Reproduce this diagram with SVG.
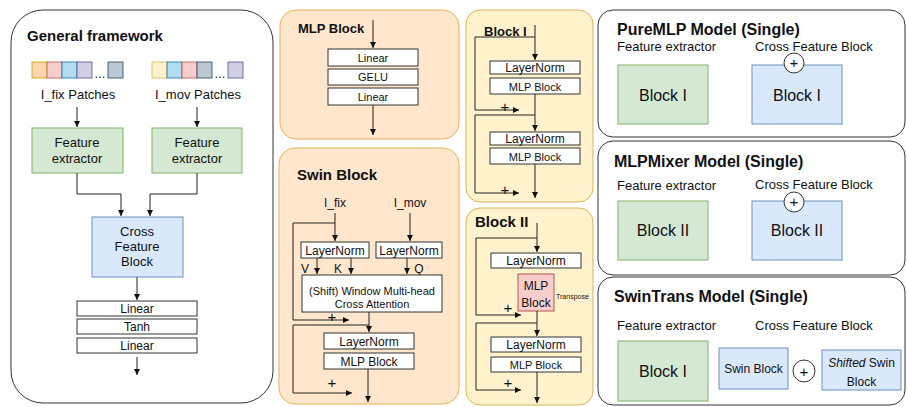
<svg xmlns="http://www.w3.org/2000/svg" width="907" height="407" viewBox="0 0 907 407">
<style>
text{font-family:"Liberation Sans",Arial,sans-serif;fill:#111}
.t{font-weight:bold}
.c{text-anchor:middle}
.box{fill:#fff;stroke:#333;stroke-width:1}
.grn{fill:#d5e8d4;stroke:#82b366;stroke-width:1}
.blu{fill:#dae8fc;stroke:#6c8ebf;stroke-width:1}
.org{fill:#ffe6cc;stroke:#e6b35a;stroke-width:1}
.yel{fill:#fff2cc;stroke:#d6b656;stroke-width:1}
.pnl{fill:#fff;stroke:#333;stroke-width:1}
.ln{fill:none;stroke:#222;stroke-width:1}
.s11{font-size:11px}
.s12{font-size:12px}
.s13{font-size:13px}
.pl{font-size:15px;text-anchor:middle}
</style>
<defs>
<marker id="a" markerWidth="7" markerHeight="7" refX="6" refY="3.5" orient="auto" markerUnits="userSpaceOnUse">
<path d="M0,0.5 L6,3.5 L0,6.5 Z" fill="#111"/>
</marker>
</defs>

<!-- General framework -->
<g id="general">
<rect x="11" y="10" width="262" height="393" rx="32" class="pnl"/>
<text x="27" y="41" class="t" font-size="15">General framework</text>
</g>
<g id="fix-patches">
<rect x="32" y="62" width="15" height="16" fill="#fad7ac" stroke="#d79b00" stroke-width="0.8"/>
<rect x="47" y="62" width="15" height="16" fill="#f8cecc" stroke="#b85450" stroke-width="0.8"/>
<rect x="62" y="62" width="15" height="16" fill="#b1ddf0" stroke="#10739e" stroke-width="0.8"/>
<rect x="77" y="62" width="15" height="16" fill="#d0cee2" stroke="#56517e" stroke-width="0.8"/>
<text x="100" y="78" class="c s13">...</text>
<rect x="108" y="62" width="15" height="16" fill="#bac8d3" stroke="#23445d" stroke-width="0.8"/>
<text x="78" y="99" class="c s13">I_fix Patches</text>
</g>
<g id="mov-patches">
<rect x="152" y="62" width="15" height="16" fill="#fff2cc" stroke="#d6b656" stroke-width="0.8"/>
<rect x="167" y="62" width="15" height="16" fill="#b1ddf0" stroke="#10739e" stroke-width="0.8"/>
<rect x="182" y="62" width="15" height="16" fill="#f8cecc" stroke="#b85450" stroke-width="0.8"/>
<rect x="197" y="62" width="15" height="16" fill="#bac8d3" stroke="#23445d" stroke-width="0.8"/>
<text x="220" y="78" class="c s13">...</text>
<rect x="228" y="62" width="15" height="16" fill="#d0cee2" stroke="#56517e" stroke-width="0.8"/>
<text x="198" y="99" class="c s13">I_mov Patches</text>
</g>
<g id="fe-left">
<rect x="32" y="128" width="91" height="45" class="grn"/>
<text x="77" y="147" class="c s13">Feature</text>
<text x="77" y="163" class="c s13">extractor</text>
</g>
<g id="fe-right">
<rect x="152" y="128" width="90" height="45" class="grn"/>
<text x="197" y="147" class="c s13">Feature</text>
<text x="197" y="163" class="c s13">extractor</text>
</g>
<g id="cfb">
<rect x="92" y="217" width="91" height="60" class="blu"/>
<text x="137" y="236" class="c s13">Cross</text>
<text x="137" y="251" class="c s13">Feature</text>
<text x="137" y="266" class="c s13">Block</text>
</g>
<g id="head">
<rect x="77" y="301" width="120" height="15" class="box"/>
<text x="137" y="313" class="c s12">Linear</text>
<rect x="77" y="319" width="120" height="15" class="box"/>
<text x="137" y="331" class="c s12">Tanh</text>
<rect x="77" y="338" width="120" height="15" class="box"/>
<text x="137" y="350" class="c s12">Linear</text>
</g>

<!-- MLP Block -->
<g id="mlp-block">
<rect x="280" y="10" width="179" height="129" rx="16" class="org"/>
<text x="298" y="33" class="t s13">MLP Block</text>
<rect x="328" y="49" width="90" height="17" class="box"/>
<text x="373" y="61.5" class="c s11">Linear</text>
<rect x="328" y="69" width="90" height="16" class="box"/>
<text x="373" y="81" class="c s11">GELU</text>
<rect x="328" y="88" width="90" height="17" class="box"/>
<text x="373" y="100.5" class="c s11">Linear</text>
</g>

<!-- Swin Block -->
<g id="swin-block">
<rect x="279" y="148" width="180" height="256" rx="16" class="org"/>
<text x="297" y="180" class="t" font-size="15">Swin Block</text>
<text x="335" y="207" class="c s12">I_fix</text>
<text x="410" y="207" class="c s12">I_mov</text>
<rect x="301" y="242" width="68" height="16" class="box"/>
<text x="335" y="254.5" class="c s12">LayerNorm</text>
<rect x="376" y="242" width="66" height="16" class="box"/>
<text x="409" y="254.5" class="c s12">LayerNorm</text>
<text x="305" y="273" class="c s12">V</text>
<text x="338" y="273" class="c s12">K</text>
<text x="419" y="273" class="c s12">Q</text>
<rect x="302" y="275" width="140" height="37" class="box"/>
<text x="372" y="295" class="c s11">(Shift) Window Multi-head</text>
<text x="372" y="308" class="c s11">Cross Attention</text>
<text x="332" y="322" class="pl">+</text>
<rect x="324" y="333" width="90" height="16" class="box"/>
<text x="369" y="345.5" class="c s12">LayerNorm</text>
<rect x="324" y="353" width="90" height="16" class="box"/>
<text x="369" y="365.5" class="c s12">MLP Block</text>
<text x="332" y="388" class="pl">+</text>
</g>

<!-- Block I -->
<g id="block-1">
<rect x="466" y="10" width="127" height="192" rx="14" class="yel"/>
<text x="484" y="36" class="t" font-size="13">Block I</text>
<rect x="490" y="61" width="90" height="13" class="box"/>
<text x="535" y="72" class="c s12">LayerNorm</text>
<rect x="490" y="78" width="90" height="16" class="box"/>
<text x="535" y="90.5" class="c s11">MLP Block</text>
<text x="505" y="112" class="pl">+</text>
<rect x="490" y="132" width="90" height="13" class="box"/>
<text x="535" y="143" class="c s12">LayerNorm</text>
<rect x="490" y="148" width="90" height="16" class="box"/>
<text x="535" y="160.5" class="c s11">MLP Block</text>
<text x="505" y="195" class="pl">+</text>
</g>

<!-- Block II -->
<g id="block-2">
<rect x="466" y="208" width="127" height="197" rx="14" class="yel"/>
<text x="475" y="227" class="t" font-size="15">Block II</text>
<rect x="491" y="253" width="90" height="15" class="box"/>
<text x="536" y="265" class="c s12">LayerNorm</text>
<rect x="518" y="274" width="36" height="37" fill="#f8cecc" stroke="#b85450" stroke-width="1"/>
<text x="536" y="290" class="c s12">MLP</text>
<text x="536" y="307" class="c s12">Block</text>
<text x="556" y="299" font-size="7">Transpose</text>
<text x="508" y="313" class="pl">+</text>
<rect x="491" y="337" width="90" height="15" class="box"/>
<text x="536" y="349" class="c s12">LayerNorm</text>
<rect x="491" y="357" width="90" height="15" class="box"/>
<text x="536" y="369" class="c s11">MLP Block</text>
<text x="508" y="388" class="pl">+</text>
</g>

<!-- PureMLP -->
<g id="puremlp">
<rect x="598" y="10" width="307" height="127" rx="15" class="pnl"/>
<text x="617" y="35" class="t" font-size="16">PureMLP Model (Single)</text>
<text x="617" y="51" class="s13">Feature extractor</text>
<text x="755" y="51" class="s13">Cross Feature Block</text>
<rect x="618" y="65" width="90" height="59" class="grn"/>
<text x="663" y="101" class="c" font-size="16">Block I</text>
<rect x="752" y="65" width="90" height="59" class="blu"/>
<text x="797" y="101" class="c" font-size="16">Block I</text>
<circle cx="794" cy="63" r="10" fill="#fff" stroke="#333" stroke-width="1"/>
<text x="794" y="68" class="c" font-size="15">+</text>
</g>

<!-- MLPMixer -->
<g id="mlpmixer">
<rect x="598" y="141" width="307" height="134" rx="15" class="pnl"/>
<text x="614" y="167" class="t" font-size="16">MLPMixer Model (Single)</text>
<text x="617" y="190" class="s13">Feature extractor</text>
<text x="755" y="189" class="s13">Cross Feature Block</text>
<rect x="618" y="201" width="90" height="59" class="grn"/>
<text x="663" y="236" class="c" font-size="16">Block II</text>
<rect x="752" y="201" width="90" height="59" class="blu"/>
<text x="797" y="236" class="c" font-size="16">Block II</text>
<circle cx="794" cy="202" r="10" fill="#fff" stroke="#333" stroke-width="1"/>
<text x="794" y="207" class="c" font-size="15">+</text>
</g>

<!-- SwinTrans -->
<g id="swintrans">
<rect x="598" y="277" width="307" height="128" rx="15" class="pnl"/>
<text x="614" y="302" class="t" font-size="16">SwinTrans Model (Single)</text>
<text x="617" y="330" class="s13">Feature extractor</text>
<text x="755" y="330" class="s13">Cross Feature Block</text>
<rect x="618" y="341" width="90" height="60" class="grn"/>
<text x="663" y="377" class="c" font-size="16">Block I</text>
<rect x="719" y="348" width="69" height="41" class="blu"/>
<text x="753.5" y="373" class="c s12">Swin Block</text>
<circle cx="804" cy="371" r="11" fill="#fff" stroke="#333" stroke-width="1"/>
<text x="804" y="376.5" class="c" font-size="15">+</text>
<rect x="822" y="350" width="79" height="40" class="blu"/>
<text x="861.5" y="367" class="c s12"><tspan font-style="italic">Shifted</tspan> Swin</text>
<text x="861.5" y="386" class="c s12">Block</text>
</g>

<!-- Connectors -->
<g id="connectors" class="ln">
<path d="M77,107 V127" marker-end="url(#a)"/>
<path d="M197,107 V127" marker-end="url(#a)"/>
<path d="M77,173 V194 H121 V216" marker-end="url(#a)"/>
<path d="M197,173 V194 H150 V216" marker-end="url(#a)"/>
<path d="M137,277 V300" marker-end="url(#a)"/>
<path d="M137,357 V375" marker-end="url(#a)"/>

<path d="M373,20 V48" marker-end="url(#a)"/>
<path d="M373,105 V135" marker-end="url(#a)"/>

<path d="M335,213 V241" marker-end="url(#a)"/>
<path d="M410,213 V241" marker-end="url(#a)"/>
<path d="M335,223 H293 V320 H349" marker-end="url(#a)"/>
<path d="M317,258 V274" marker-end="url(#a)"/>
<path d="M351,258 V274" marker-end="url(#a)"/>
<path d="M407,258 V274" marker-end="url(#a)"/>
<path d="M369,312 V332" marker-end="url(#a)"/>
<path d="M369,325 H293 V393 H352" marker-end="url(#a)"/>
<path d="M368,369 V402" marker-end="url(#a)"/>

<path d="M535,25 V60" marker-end="url(#a)"/>
<path d="M535,37 H475 V110 H519" marker-end="url(#a)"/>
<path d="M535,94 V131" marker-end="url(#a)"/>
<path d="M535,115 H475 V193 H519" marker-end="url(#a)"/>
<path d="M535,164 V198" marker-end="url(#a)"/>

<path d="M537,223 V252" marker-end="url(#a)"/>
<path d="M537,238 H476 V315 H521" marker-end="url(#a)"/>
<path d="M537,311 V336" marker-end="url(#a)"/>
<path d="M537,323 H476 V390 H521" marker-end="url(#a)"/>
<path d="M537,372 V403" marker-end="url(#a)"/>
</g>
</svg>
